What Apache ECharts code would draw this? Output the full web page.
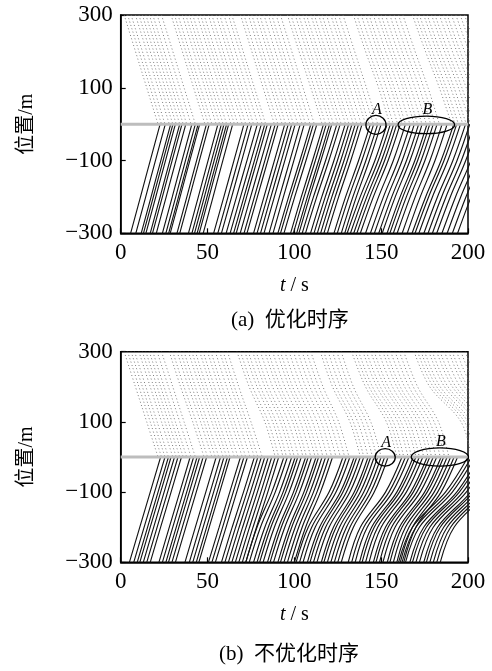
<!DOCTYPE html>
<html>
<head>
<meta charset="utf-8">
<script src="https://cdn.jsdelivr.net/npm/echarts@6/dist/echarts.min.js"></script>
<style>html,body{margin:0;padding:0;background:#fff}#c{width:492px;height:671px}</style>
</head>
<body>
<div id="c"></div>
<script>
// ---------- axes ----------
const tTicks = [0, 50, 100, 150, 200];
const posTicks = [-300, -100, 100, 300];
const captions = ['(a)  优化时序', '(b)  不优化时序'];
const markNames = ['A', 'B'];

// positions at which each trajectory's time is read
const solidPos = [-300, -200, -100, 0];
const dottedPos = [300, 200, 100, 0];

// ---------- panel (a): optimized ----------
// crossing times (s) at position 0 of solid trajectories, grouped in platoons
const aSolidCross = [
  [22.7, 25.7, 28.8, 30.1, 31.5, 34, 35.3, 37.5],
  [41, 43, 44.6, 45.5, 49.4, 51],
  [56, 58, 59.5, 61, 62.2, 64.5],
  [71, 73.4, 75.5],
  [78.7, 81, 83, 84.5, 86.8, 89, 90.7],
  [94.5, 96.5, 98.5, 100.5, 103.4, 105.7],
  [109.5, 111, 113, 116.8, 118.4, 120.3, 121.6],
  [124.5, 126.4, 129.3, 131.3, 133.2, 135.1, 137, 139],
  [143.8, 145.7, 148, 150],
  [153.4, 155.3, 157.2, 159, 161, 164, 166.8, 169.1],
  [171.6, 173.6, 176.4, 178, 180, 182.2, 185.1, 188],
  [191.8, 193.5, 195.7, 198.6, 201, 203.5, 206, 209, 212, 215, 218]
];
// time offsets (s) at solidPos relative to crossing, one per platoon
const aSolidShape = [
  [-17, -11.3, -5.7, 0], [-17, -11.3, -5.7, 0], [-17, -11.3, -5.7, 0],
  [-17.5, -11.6, -5.8, 0], [-18, -12, -6, 0], [-18, -12, -6, 0],
  [-19, -12.8, -6.3, 0], [-20, -13.5, -6.5, 0], [-21, -14.3, -6.8, 0],
  [-23, -15.5, -7, 0], [-23, -15.5, -7, 0], [-24, -16.2, -7.3, 0]
];
// times (s) at position 300 of dotted trajectories, grouped
const aDottedStart = [
  [2, 4, 6, 8.5, 10.5, 12.5, 14.5, 16.5, 18.5, 21, 23.5],
  [29, 31, 33, 35.5, 37.5, 39.5, 41.5, 44, 46, 48, 50.5, 52.5, 55, 57, 59.5, 62, 64],
  [69, 71, 73.5, 75.5, 78, 80, 82.5, 85, 87, 89.5, 92],
  [96, 98, 100.5, 102.5, 105, 107, 109.5, 111.5, 114, 116, 118.5, 121, 123, 125.5, 128],
  [134, 136, 138.5, 141, 143, 145.5, 148, 150, 152.5, 155, 157.5, 160, 162.5],
  [168, 170, 172, 174.5, 176.5, 179, 181, 183.5, 186, 188, 190.5, 193, 195.5, 198]
];
const aDottedShape = [
  [0, 6.5, 13, 19.5], [0, 6.5, 13, 19.5], [0, 6.5, 13, 19.5],
  [0, 6.7, 13.5, 20], [0, 7, 14.5, 21], [0, 7.5, 15.5, 22.5]
];
const aMarkT = [147, 176];
const aMarkPos = [-2, -2];
const aMarkHalfT = [5.8, 16.3];
const aMarkHalfPos = [26, 24];

// ---------- panel (b): not optimized ----------
const bSolidCross = [
  [23, 25.5, 27.5, 29, 31, 33, 35],
  [40, 42, 44, 45.5, 47.5, 49.5],
  [55, 57.5, 59.5, 61.5, 63],
  [69, 71, 73],
  [77, 79, 81, 83, 85, 87, 89, 91],
  [94, 96, 98.5, 100.5, 102, 104, 106.5, 108, 110, 112.5, 114, 116, 118, 120, 122],
  [128, 130, 132, 134.5, 136, 138, 140, 142.5, 144, 146, 148, 150, 152, 154],
  [162, 164, 166, 168.5, 170, 172, 174, 176.5, 178, 180, 182, 184.5, 186, 188, 190, 192, 194],
  [200, 202, 204, 206.5, 208, 210, 212, 214.5, 216, 218, 220, 222, 224]
];
const bSolidShape = [
  [-18, -12, -6, 0], [-18, -12, -6, 0], [-18, -12, -6, 0],
  [-18.5, -12.3, -6.2, 0], [-19, -12.8, -6.3, 0], [-22, -15.5, -7, 0],
  [-27, -20, -8, 0], [-31, -24, -9.5, 0], [-40, -32, -13, 0]
];
const bDottedStart = [
  [2, 4, 6, 8, 10.5, 12.5, 14.5, 16.5, 18.5, 21, 23.5],
  [28, 30, 32.5, 34.5, 36.5, 39, 41, 43, 45.5, 47.5, 50, 52, 54.5, 57, 59, 61.5],
  [67, 69, 71.5, 73.5, 76, 78, 80.5, 83, 85, 87.5, 90, 92, 94.5, 97, 99.5, 102, 104.5, 107, 109.5],
  [115, 117, 119.5, 122, 124.5, 127],
  [133, 135, 137, 139.5, 141.5, 144, 146, 148.5, 151, 153, 155.5, 158, 160.5, 163],
  [169, 171, 173, 175, 177.5, 179.5, 182, 184, 186.5, 189, 191, 193.5, 196, 198.5]
];
const bDottedShape = [
  [0, 6.5, 13, 19.5], [0, 6.5, 13.5, 20], [0, 7, 16, 22],
  [0, 7, 17, 23], [0, 8, 20, 26], [0, 9, 27, 33]
];
const bMarkT = [152.3, 183.8];
const bMarkPos = [-1, 0];
const bMarkHalfT = [5.8, 16.5];
const bMarkHalfPos = [25, 26];

// stop line
const stopLineT = [0, 200];
const stopLinePos = 0;

// ---------- build ----------
const serif = "'Liberation Serif','Times New Roman',serif";
const cjk = "'Liberation Serif','Noto Sans CJK SC',serif";
const grids = [
  {left: 120.7, top: 15, width: 347.3, height: 218.3},
  {left: 120.7, top: 351.7, width: 347.3, height: 210.6}
];
grids.forEach(g => { g.show = true; g.borderColor = '#000'; g.borderWidth = 1.5; g.backgroundColor = 'transparent'; });

function xAxis(i) {
  return {
    gridIndex: i, type: 'value', min: tTicks[0], max: tTicks[tTicks.length - 1], interval: 50,
    axisLine: {show: true, onZero: false, lineStyle: {color: '#000', width: 1.5}},
    axisTick: {show: true, inside: true, length: 5, lineStyle: {color: '#000', width: 1.2}},
    axisLabel: {color: '#000', fontFamily: serif, fontSize: 23, margin: 8},
    splitLine: {show: false},
    name: '{i|t} / s', nameLocation: 'middle', nameGap: 42,
    nameTextStyle: {color: '#000', fontFamily: serif, fontSize: 20,
      rich: {i: {fontStyle: 'italic', fontFamily: serif, fontSize: 20, color: '#000'}}}
  };
}
function yAxis(i) {
  return {
    gridIndex: i, type: 'value', min: posTicks[0], max: posTicks[posTicks.length - 1], interval: 200,
    axisLine: {show: true, onZero: false, lineStyle: {color: '#000', width: 1.5}},
    axisTick: {show: true, inside: true, length: 5, lineStyle: {color: '#000', width: 1.2}},
    axisLabel: {color: '#000', fontFamily: serif, fontSize: 23, margin: 8,
      formatter: v => (v < 0 ? '\u2212' + Math.abs(v) : String(v))},
    splitLine: {show: false},
    name: '位置/m', nameLocation: 'middle', nameGap: 84, nameRotate: 90,
    nameTextStyle: {color: '#000', fontFamily: cjk, fontSize: 20}
  };
}

const series = [];
function addTraj(gi, crossGroups, shapes, positions, dotted) {
  crossGroups.forEach((grp, k) => {
    grp.forEach(t => {
      series.push({
        type: 'line', xAxisIndex: gi, yAxisIndex: gi, silent: true,
        showSymbol: false, smooth: 0.35, clip: true, z: dotted ? 2 : 3,
        lineStyle: dotted ? {color: '#7a7a7a', width: 1, type: [1, 2.5]}
                          : {color: '#141414', width: 1.15},
        data: positions.map((p, j) => [t + shapes[k][j], p])
      });
    });
  });
}
addTraj(0, aSolidCross, aSolidShape, solidPos, false);
addTraj(0, aDottedStart, aDottedShape, dottedPos, true);
addTraj(1, bSolidCross, bSolidShape, solidPos, false);
addTraj(1, bDottedStart, bDottedShape, dottedPos, true);

[0, 1].forEach(gi => {
  series.push({
    type: 'line', xAxisIndex: gi, yAxisIndex: gi, silent: true, showSymbol: false, z: 4,
    lineStyle: {color: '#bdbdbd', width: 3},
    data: stopLineT.map(t => [t, stopLinePos])
  });
});

function addMarks(gi, T, P, HT, HP) {
  series.push({
    type: 'custom', xAxisIndex: gi, yAxisIndex: gi, silent: true, z: 6, clip: false,
    data: T.map((t, i) => [t, P[i], HT[i], HP[i]]),
    renderItem: (params, api) => {
      const c = api.coord([api.value(0), api.value(1)]);
      const s = api.size([api.value(2), api.value(3)]);
      const top = api.coord([api.value(0), api.value(1) + api.value(3)]);
      return {type: 'group', children: [
        {type: 'ellipse', shape: {cx: c[0], cy: c[1], rx: s[0], ry: s[1]},
         style: {fill: null, stroke: '#000', lineWidth: 1.3}},
        {type: 'text', x: c[0] + 1, y: top[1] + 2,
         style: {text: markNames[params.dataIndex], fontFamily: serif, fontStyle: 'italic', fontSize: 16,
                 fill: '#000', align: 'center', verticalAlign: 'bottom'}}
      ]};
    }
  });
}
addMarks(0, aMarkT, aMarkPos, aMarkHalfT, aMarkHalfPos);
addMarks(1, bMarkT, bMarkPos, bMarkHalfT, bMarkHalfPos);

const chart = echarts.init(document.getElementById('c'), null, {renderer: 'canvas'});
chart.setOption({
  animation: false,
  grid: grids,
  xAxis: [xAxis(0), xAxis(1)],
  yAxis: [yAxis(0), yAxis(1)],
  series: series,
  graphic: [
    {type: 'text', left: 231, top: 310, style: {text: captions[0], fontFamily: cjk, fontSize: 21, fill: '#000'}},
    {type: 'text', left: 219, top: 644, style: {text: captions[1], fontFamily: cjk, fontSize: 21, fill: '#000'}}
  ]
});
</script>
</body>
</html>
